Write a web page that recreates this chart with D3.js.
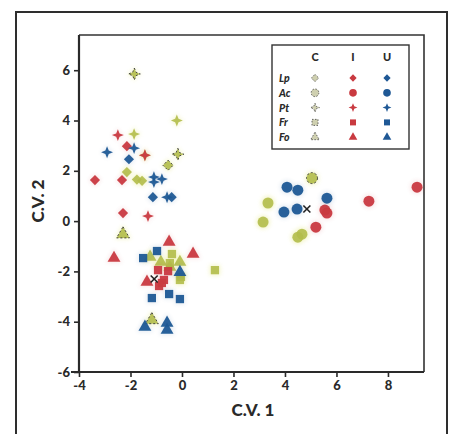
<!DOCTYPE html>
<html><head><meta charset="utf-8">
<script src="https://cdn.jsdelivr.net/npm/d3@7"></script>
<style>
body{margin:0;background:#fff;}
svg text{font-family:Lato,"Open Sans",sans-serif;font-weight:900;fill:#2a2a2a;}
</style></head>
<body><svg id="c" width="454" height="434"></svg>
<script>
// ---- data ----
const species = ["Lp","Ac","Pt","Fr","Fo"];
const groups = ["C","I","U"];
const xTicks = [-4,-2,0,2,4,6,8];
const yTicks = [-6,-4,-2,0,2,4,6];
// points: [species, x, y]
const groupC = [
  ["Lp",-2.14,1.95],["Lp",-1.75,1.65],["Lp",-1.55,1.6],
  ["Pt",-0.2,4.0],["Pt",-1.86,3.46],["Pt",-1.44,2.62],
  ["Ac",3.34,0.72],["Ac",3.15,-0.04],["Ac",4.66,-0.52],["Ac",4.5,-0.64],
  ["Fr",-0.39,-1.31],["Fr",-0.47,-1.67],["Fr",-0.04,-2.22],["Fr",-0.08,-2.34],["Fr",1.28,-1.95],
  ["Fo",-1.24,-1.43],["Fo",-0.82,-1.63],["Fo",-0.08,-1.63],["Fo",-0.47,-1.83]
];
// C points drawn with a dark dashed rim in the original
const groupCRimmed = [
  ["Pt",-1.85,5.85],["Pt",-0.16,2.66],["Lp",-0.54,2.22],
  ["Ac",5.05,1.71],["Fo",-2.29,-0.52],["Fo",-1.17,-3.93]
];
const groupI = [
  ["Lp",-3.38,1.63],["Lp",-2.33,1.63],["Lp",-2.14,2.98],["Lp",-2.29,0.32],
  ["Pt",-2.49,3.42],["Pt",-1.44,2.62],["Pt",-1.32,0.2],
  ["Ac",5.55,0.44],["Ac",5.63,0.32],["Ac",5.2,-0.24],["Ac",7.26,0.79],["Ac",9.13,1.35],
  ["Fr",-0.93,-1.95],["Fr",-0.54,-1.99],["Fr",-0.7,-2.34],["Fr",-0.78,-2.46],["Fr",-0.89,-2.58],
  ["Fo",-2.64,-1.47],["Fo",-0.5,-0.83],["Fo",0.43,-1.31],["Fo",-1.36,-2.42]
];
const groupU = [
  ["Lp",-2.06,2.46],["Lp",-1.13,0.95],["Lp",-0.4,0.95],
  ["Pt",-2.91,2.74],["Pt",-1.86,2.9],["Pt",-1.09,1.75],["Pt",-1.09,1.55],["Pt",-0.78,1.67],["Pt",-0.58,0.95],
  ["Ac",4.08,1.35],["Ac",4.5,1.23],["Ac",3.96,0.36],["Ac",4.47,0.48],["Ac",5.63,0.91],
  ["Fr",-1.51,-1.47],["Fr",-0.97,-1.19],["Fr",-1.17,-3.06],["Fr",-0.5,-2.9],["Fr",-0.08,-3.1],
  ["Fo",-0.08,-2.03],["Fo",-1.44,-4.21],["Fo",-0.58,-4.05],["Fo",-0.58,-4.33]
];
const centroids = [[4.85,0.48],[-1.08,-2.3]];

// ---- drawing ----
const svg = d3.select("#c");
const colors = {C:"#b3bd4a", I:"#c93a40", U:"#1f5895"};
const M = {left:79, top:35, right:424, bottom:372};
const x = d3.scaleLinear().domain([-4,9.4]).range([M.left, M.right]);
const y = d3.scaleLinear().domain([-6,7.4]).range([M.bottom, M.top]);

const star4 = {draw(ctx, size){
  const r = Math.sqrt(size)*0.7, ri = r*0.4;
  for(let i=0;i<8;i++){
    const a = i*Math.PI/4 - Math.PI/2;
    const rr = i%2===0 ? r : ri;
    const px = rr*Math.cos(a), py = rr*Math.sin(a);
    i===0 ? ctx.moveTo(px,py) : ctx.lineTo(px,py);
  }
  ctx.closePath();
}};
const symType = {Lp:d3.symbolDiamond2, Ac:d3.symbolCircle, Pt:star4, Fr:d3.symbolSquare, Fo:d3.symbolTriangle};
const symSize = {Lp:66, Ac:95, Pt:72, Fr:68, Fo:72};
const legSize = {Lp:34, Ac:46, Pt:40, Fr:36, Fo:32};

const defs = svg.append("defs");
defs.append("filter").attr("id","soft").attr("x","-50%").attr("y","-50%").attr("width","200%").attr("height","200%")
  .append("feGaussianBlur").attr("stdDeviation",0.4);
const glow = defs.append("filter").attr("id","glow").attr("x","-80%").attr("y","-80%").attr("width","260%").attr("height","260%");
glow.append("feGaussianBlur").attr("stdDeviation",2.2);

// outer frame
svg.append("path").attr("d","M16,434 V12 H447 V434").attr("fill","none").attr("stroke","#2e2e2e").attr("stroke-width",2);

// plot box top/right
svg.append("path").attr("d",`M${M.left},${M.top} H${M.right} V${M.bottom}`).attr("fill","none").attr("stroke","#333").attr("stroke-width",1.6);

// axes
const fmt = d => String(d);
const gx = svg.append("g").attr("transform",`translate(0,${M.bottom})`)
  .call(d3.axisBottom(x).tickValues(xTicks).tickFormat(fmt).tickSize(5).tickPadding(4).tickSizeOuter(0));
const gy = svg.append("g").attr("transform",`translate(${M.left},0)`)
  .call(d3.axisLeft(y).tickValues(yTicks).tickFormat(fmt).tickSize(5).tickPadding(4).tickSizeOuter(0));
[gx,gy].forEach(g=>{
  g.select(".domain").attr("stroke","#2a2a2a").attr("stroke-width",2.2);
  g.selectAll(".tick line").attr("stroke","#2a2a2a").attr("stroke-width",1.6);
  g.selectAll(".tick text").style("font-size","13px").style("font-family","Lato,sans-serif").style("font-weight","900").attr("fill","#2a2a2a");
});
gy.select(".domain").attr("d",`M0,${M.bottom}V${M.top}`);
gx.select(".domain").attr("d",`M${M.left-8},0H${M.right}`);

svg.append("text").attr("x",253).attr("y",416).attr("text-anchor","middle").style("font-size","17px").text("C.V. 1");
svg.append("text").attr("transform","translate(44,201) rotate(-90)").attr("text-anchor","middle").style("font-size","17px").text("C.V. 2");

// points
const plotG = svg.append("g");
function drawPts(data, grp, rim){
  const fill = colors[grp];
  plotG.append("g").attr("filter","url(#glow)").attr("opacity", grp==="C"?0.4:0.12)
    .selectAll("path").data(data).join("path")
    .attr("transform",d=>`translate(${x(d[1])},${y(d[2])})`)
    .attr("d",d=>d3.symbol(symType[d[0]], symSize[d[0]]*1.6)())
    .attr("fill", grp==="C" ? "#e3e67a" : fill);
  plotG.append("g").attr("filter","url(#soft)")
    .selectAll("path").data(data).join("path")
    .attr("transform",d=>`translate(${x(d[1])},${y(d[2])})`)
    .attr("d",d=>d3.symbol(symType[d[0]], symSize[d[0]])())
    .attr("fill", fill).attr("fill-opacity", grp==="C"?0.9:0.95)
    .attr("stroke", rim ? "#3a3a3a" : "none").attr("stroke-width", rim?0.9:0)
    .attr("stroke-dasharray", rim ? "2,2" : null);
}
drawPts(groupC,"C",false);
drawPts(groupCRimmed,"C",true);
drawPts(groupI,"I",false);
drawPts(groupU,"U",false);

plotG.selectAll("g.xm").data(centroids).join("g").attr("class","xm")
  .attr("transform",d=>`translate(${x(d[0])},${y(d[1])})`)
  .each(function(){
    const g=d3.select(this);
    g.append("line").attr("x1",-3.5).attr("y1",-3.5).attr("x2",3.5).attr("y2",3.5);
    g.append("line").attr("x1",-3.5).attr("y1",3.5).attr("x2",3.5).attr("y2",-3.5);
  }).selectAll("line").attr("stroke","#222").attr("stroke-width",1.6);

// legend
const L = {x:272, y:45, w:137, h:104};
const leg = svg.append("g");
leg.append("rect").attr("x",L.x).attr("y",L.y).attr("width",L.w).attr("height",L.h)
  .attr("fill","#fff").attr("stroke","#333").attr("stroke-width",1.4);
const colX = {C:315, I:353, U:387};
groups.forEach(g=>{
  leg.append("text").attr("x",colX[g]).attr("y",61).attr("text-anchor","middle").style("font-size","11px").text(g);
});
species.forEach((s,i)=>{
  const yy = 78 + i*14.8;
  leg.append("text").attr("x",279).attr("y",yy+4).style("font-size","10.5px").style("font-style","italic").text(s);
  groups.forEach(g=>{
    leg.append("path").attr("transform",`translate(${colX[g]},${yy})`)
      .attr("d",d3.symbol(symType[s], legSize[s])())
      .attr("fill", g==="C" ? "#cfd0b0" : colors[g])
      .attr("stroke", g==="C" ? "#555" : "none").attr("stroke-width",0.9)
      .attr("stroke-dasharray", g==="C" ? "1.5,1.5" : null);
  });
});
</script></body></html>
